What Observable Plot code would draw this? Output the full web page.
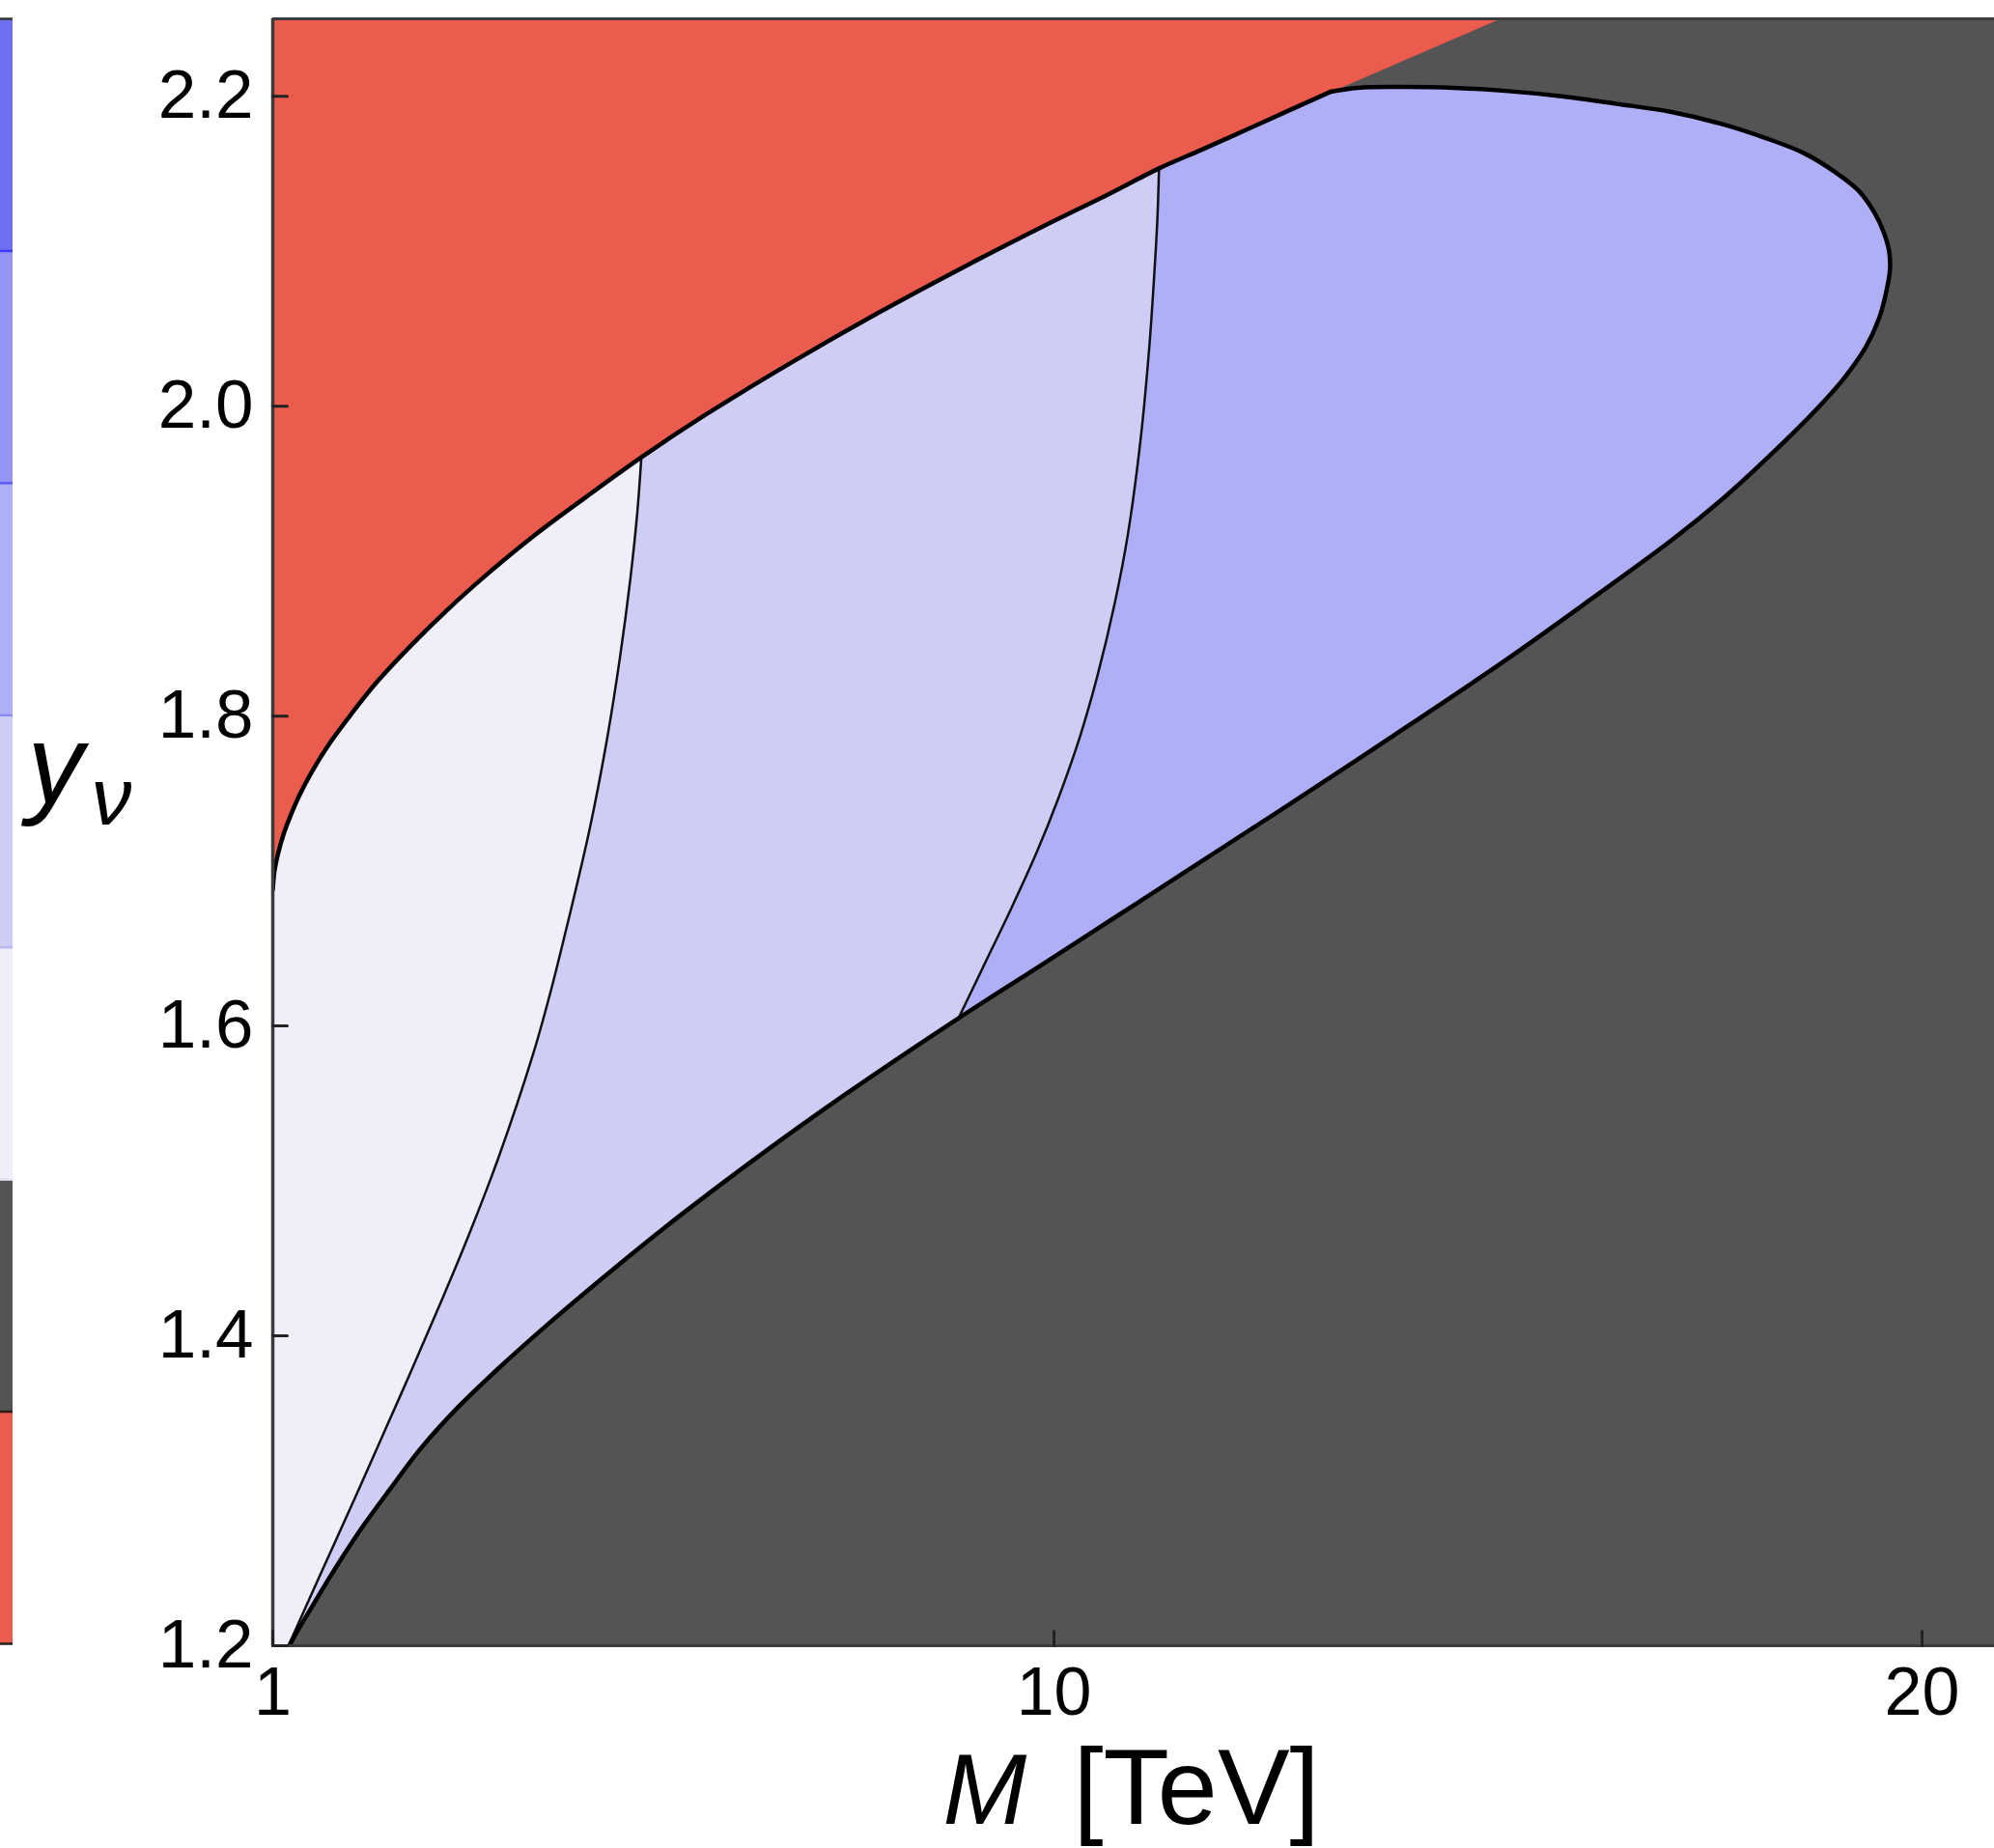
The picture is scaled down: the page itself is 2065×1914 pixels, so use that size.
<!DOCTYPE html>
<html>
<head>
<meta charset="utf-8">
<script src="https://cdn.jsdelivr.net/npm/d3@7"></script>
<script src="https://cdn.jsdelivr.net/npm/@observablehq/plot@0.6"></script>
<style>
  html, body { margin: 0; padding: 0; background: white; overflow: hidden; }
  #wrap { position: relative; width: 2065px; height: 1914px; }
  #wrap svg { position: absolute; left: 0; top: 0; }
</style>
</head>
<body>
<div id="wrap"></div>
<script>
// ---------------- data ----------------
// axis domains and ticks
const xDomain = [1, 20.834];
const yDomain = [1.2, 2.25];
const xTicks = [1, 10, 20];
const yTicks = [1.2, 1.4, 1.6, 1.8, 2.0, 2.2];

// upper boundary (red region above), M [TeV] vs y_nu
const upperM = [1.0, 1.02, 1.06, 1.12, 1.2, 1.3, 1.45, 1.65, 1.9, 2.2, 2.6, 3.0, 3.5, 4.0, 4.6, 5.246, 6.0, 7.0, 8.0, 9.0, 10.0, 10.6, 11.21, 11.7, 12.2, 12.7, 13.19];
const upperY = [1.688, 1.700, 1.711, 1.723, 1.735, 1.748, 1.764, 1.782, 1.801, 1.822, 1.846, 1.868, 1.893, 1.916, 1.941, 1.967, 1.995, 2.029, 2.061, 2.091, 2.1196, 2.136, 2.1535, 2.1655, 2.178, 2.1907, 2.203];

// straight red / grey edge from the end of the upper boundary to the frame top
const redEdgeM = [13.19, 15.13];
const redEdgeY = [2.203, 2.25];

// lower boundary (grey region below), up to the tip of the allowed region
const lowerM = [1.19, 1.3, 1.45, 1.6, 1.8, 2.05, 2.35, 2.7, 3.1, 3.6, 4.2, 4.9, 5.7, 6.6, 7.6, 8.9, 9.9, 10.7, 11.5, 12.6, 13.9, 15.2, 16.2, 17.15, 17.8, 18.3, 18.75, 19.1, 19.35, 19.5, 19.58, 19.63];
const lowerY = [1.2, 1.211, 1.225, 1.239, 1.257, 1.278, 1.301, 1.327, 1.352, 1.379, 1.409, 1.442, 1.478, 1.516, 1.556, 1.605, 1.641, 1.670, 1.699, 1.739, 1.787, 1.836, 1.876, 1.915, 1.945, 1.971, 1.996, 2.018, 2.038, 2.056, 2.072, 2.088];

// upper cap of the allowed region, from the end of the upper boundary to the tip
const capM = [13.19, 13.5, 14.0, 14.6, 15.2, 15.85, 16.5, 17.1, 17.7, 18.2, 18.65, 19.0, 19.27, 19.45, 19.56, 19.62];
const capY = [2.203, 2.2055, 2.206, 2.2055, 2.2035, 2.200, 2.195, 2.190, 2.182, 2.173, 2.163, 2.151, 2.139, 2.125, 2.112, 2.100];

// first contour (lightest / middle shade)
const div1M = [1.18, 1.5, 1.96, 2.3, 2.6, 2.9, 3.2, 3.6, 4.0, 4.2, 4.4, 4.65, 4.85, 5.0, 5.12, 5.2, 5.246];
const div1Y = [1.2, 1.240, 1.297, 1.340, 1.378, 1.417, 1.457, 1.515, 1.582, 1.622, 1.667, 1.727, 1.785, 1.838, 1.889, 1.932, 1.967];

// second contour (middle / darker shade)
const div2M = [8.9, 9.2, 9.5, 9.8, 10.05, 10.3, 10.5, 10.7, 10.85, 11.0, 11.1, 11.16, 11.19, 11.21];
const div2Y = [1.605, 1.640, 1.675, 1.712, 1.747, 1.787, 1.826, 1.873, 1.917, 1.980, 2.040, 2.090, 2.120, 2.1535];

// region colours
const regionColors = {excluded: "#545454", red: "#eb5b4e", light: "#efeff9", mid: "#cdcdf5", dark: "#afaff8"};

// colour bar on the far left (top to bottom)
const barColors = ["#6f6ff2", "#9494f5", "#afaff8", "#cdcdf5", "#efeff9", "#545454", "#eb5b4e"];
const barSeparators = ["#333333", "#3c3cff", "#5a5af8", "#8c8cf0", "#b8b8ee", "#e0e0f0", "#2a1a1a", "#222222"];

// ---------------- build shapes ----------------
const pts = (ms, ys) => ms.map((m, i) => ({M: m, y: ys[i]}));
const upper = pts(upperM, upperY);
const lower = pts(lowerM, lowerY);
const cap = pts(capM, capY);
const div1 = pts(div1M, div1Y);
const div2 = pts(div2M, div2Y);
const redEdge = pts(redEdgeM, redEdgeY);

const j1 = div1[div1.length - 1].M;   // div1 meets upper
const j2 = div2[div2.length - 1].M;   // div2 meets upper
const j3 = div2[0].M;                 // div2 meets lower

const redPoly = [...upper, ...redEdge.slice(1), {M: xDomain[0], y: yDomain[1]}];
const polyA = [{M: xDomain[0], y: yDomain[0]}, ...upper.filter(p => p.M <= j1), ...div1.slice().reverse()];
const polyB = [...div1, ...upper.filter(p => p.M > j1 && p.M <= j2), ...div2.slice().reverse(), ...lower.filter(p => p.M < j3).reverse()];
const polyC = [...div2, ...upper.filter(p => p.M > j2), ...cap.slice(1), ...lower.filter(p => p.M >= j3).reverse()];
const outer = [...lower, ...cap.slice().reverse()];

const curve = "catmull-rom";
const fillPoly = (data, color) => Plot.line(data, {x: "M", y: "y", fill: color, stroke: color, strokeWidth: 1, curve: "linear", clip: true});
const tickShape = {draw(context, l) { context.moveTo(0, 0); context.lineTo(0, -l); }};

const main = Plot.plot({
  width: 2065,
  height: 1914,
  marginLeft: 282,
  marginRight: 0,
  marginTop: 19,
  marginBottom: 210,
  style: {fontFamily: "'Liberation Sans', Arial, Helvetica, sans-serif", background: "transparent", color: "black"},
  x: {domain: xDomain},
  y: {domain: yDomain},
  marks: [
    Plot.frame({fill: regionColors.excluded, stroke: null}),
    fillPoly(redPoly, regionColors.red),
    fillPoly(polyA, regionColors.light),
    fillPoly(polyB, regionColors.mid),
    fillPoly(polyC, regionColors.dark),
    Plot.line(div1, {x: "M", y: "y", stroke: "#111", strokeWidth: 2.5, curve, clip: true}),
    Plot.line(div2, {x: "M", y: "y", stroke: "#111", strokeWidth: 2.5, curve, clip: true}),
    Plot.line(outer, {x: "M", y: "y", stroke: "#000", strokeWidth: 4.5, curve, clip: true, strokeLinejoin: "round"}),
    Plot.line(upper, {x: "M", y: "y", stroke: "#000", strokeWidth: 4.5, curve, clip: true, strokeLinejoin: "round"}),
    // frame: left, bottom, top
    Plot.ruleX([xDomain[0]], {stroke: "#3b3b3b", strokeWidth: 3.5}),
    Plot.ruleY([yDomain[0], yDomain[1]], {stroke: "#3b3b3b", strokeWidth: 3}),
    // inward tick marks
    Plot.vector(xTicks, {x: d => d, y: yDomain[0], length: 15, rotate: 0, anchor: "start", shape: tickShape, stroke: "#222", strokeWidth: 3}),
    Plot.vector(yTicks, {x: xDomain[0], y: d => d, length: 15, rotate: 90, anchor: "start", shape: tickShape, stroke: "#222", strokeWidth: 3}),
    // tick labels
    Plot.axisX({ticks: xTicks, tickSize: 0, tickPadding: 22, fontSize: 70, label: null, tickFormat: d => String(d)}),
    Plot.axisY({ticks: yTicks, tickSize: 0, tickPadding: 20, fontSize: 71, label: null, tickFormat: d => d.toFixed(1)}),
    // axis titles
    Plot.text(["y"], {frameAnchor: "left", text: d => d, dx: -254, dy: -30.5, lineAnchor: "bottom", textAnchor: "start", fontSize: 116, fontStyle: "italic", fill: "black"}),
    Plot.text(["ν"], {frameAnchor: "left", text: d => d, dx: -188, dy: -8.5, lineAnchor: "bottom", textAnchor: "start", fontSize: 84, fontStyle: "italic", fill: "black"}),
    Plot.text(["M"], {frameAnchor: "bottom-left", text: d => d, dx: 694, dy: 184, lineAnchor: "bottom", textAnchor: "start", fontSize: 104, fontStyle: "italic", fill: "black"}),
    Plot.text(["[TeV]"], {frameAnchor: "bottom-left", text: d => d, dx: 829, dy: 184, lineAnchor: "bottom", textAnchor: "start", fontSize: 112, fill: "black"})
  ]
});

const bands = barColors.map((c, i) => ({i, c}));
const seps = barSeparators.map((c, i) => ({i, c}));
const bar = Plot.plot({
  width: 13,
  height: 1914,
  marginLeft: 0,
  marginRight: 0,
  marginTop: 19,
  marginBottom: 212,
  style: {background: "transparent"},
  x: {domain: [0, 1], axis: null},
  y: {domain: [0, barColors.length], reverse: true, axis: null},
  color: {type: "identity"},
  marks: [
    Plot.rect(bands, {x1: 0, x2: 1, y1: d => d.i, y2: d => d.i + 1, fill: d => d.c}),
    Plot.ruleY(seps, {y: d => d.i, stroke: d => d.c, strokeWidth: 2.5})
  ]
});

const wrap = document.getElementById("wrap");
wrap.appendChild(main);
wrap.appendChild(bar);
</script>
</body>
</html>
